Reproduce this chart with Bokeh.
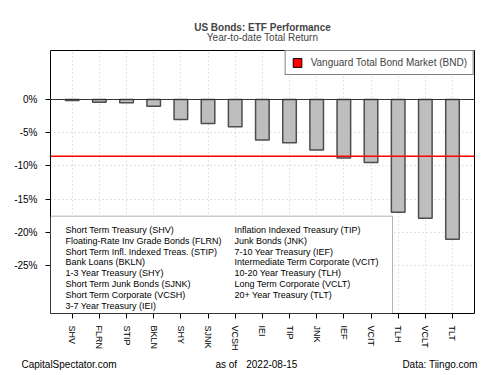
from bokeh.plotting import figure
from bokeh.models import (Range1d, Span, Legend, LegendItem, BoxAnnotation,
                          Label, Title, FixedTicker, PrintfTickFormatter, ColumnDataSource,
                          LinearAxis)
from bokeh.embed import file_html
from bokeh.resources import INLINE

# ---- data ----
tickers = ["SHV", "FLRN", "STIP", "BKLN", "SHY", "SJNK", "VCSH", "IEI", "TIP",
           "JNK", "IEF", "VCIT", "TLH", "VCLT", "TLT"]
returns = [-0.15, -0.4, -0.5, -1.0, -3.0, -3.6, -4.1, -6.1, -6.5,
           -7.6, -8.8, -9.5, -17.0, -17.9, -21.05]
names = ["Short Term Treasury (SHV)", "Floating-Rate Inv Grade Bonds (FLRN)",
         "Short Term Infl. Indexed Treas. (STIP)", "Bank Loans (BKLN)",
         "1-3 Year Treasury (SHY)", "Short Term Junk Bonds (SJNK)",
         "Short Term Corporate (VCSH)", "3-7 Year Treasury (IEI)",
         "Inflation Indexed Treasury (TIP)", "Junk Bonds (JNK)",
         "7-10 Year Treasury (IEF)", "Intermediate Term Corporate (VCIT)",
         "10-20 Year Treasury (TLH)", "Long Term Corporate (VCLT)",
         "20+ Year Treasury (TLT)"]
benchmark_name = "Vanguard Total Bond Market (BND)"
benchmark_return = -8.54
y_ticks = [0, -5, -10, -15, -20, -25]
title_text = "US Bonds: ETF Performance"
subtitle_text = "Year-to-date Total Return"
footer_texts = ["CapitalSpectator.com", "as of", "2022-08-15", "Data: Tiingo.com"]

FONT = "Liberation Sans"

xpos = list(range(len(tickers)))

p = figure(width=500, height=375, title=None,
           x_range=Range1d(-0.799, len(tickers) - 1 + 0.81),
           y_range=Range1d(-32.25, 7.385),
           output_backend="svg", toolbar_location=None,
           min_border_left=50, min_border_right=26, min_border_top=50, min_border_bottom=62,
           background_fill_color="white", border_fill_color="white",
           outline_line_color="black", outline_line_width=1)

# grid
p.xgrid.ticker = FixedTicker(ticks=xpos)
p.xgrid.grid_line_color = "#C8C8C8"
p.xgrid.grid_line_dash = "1 3"
p.ygrid.grid_line_color = "#C8C8C8"
p.ygrid.grid_line_dash = "1 3"
p.ygrid.ticker = FixedTicker(ticks=y_ticks)

# bars
src = ColumnDataSource(dict(x=xpos, ticker=tickers, ret=returns))
p.vbar(x="x", top="ret", bottom=0, width=0.5, source=src,
       fill_color="#BEBEBE", line_color="#4D4D4D", line_width=1.5)

# zero line and benchmark line
p.add_layout(Span(location=0, dimension="width", line_color="#333333", line_width=1))
p.add_layout(Span(location=benchmark_return, dimension="width", line_color="#FF0000", line_width=1.5))

# axes
p.xaxis.ticker = FixedTicker(ticks=xpos)
p.xaxis.major_label_overrides = {i: t for i, t in zip(xpos, tickers)}
p.yaxis.ticker = FixedTicker(ticks=y_ticks)
p.yaxis.formatter = PrintfTickFormatter(format="%d%%")
for ax in (p.xaxis[0], p.yaxis[0]):
    ax.axis_line_color = None
    ax.major_tick_out = 5
    ax.major_tick_in = 0
    ax.minor_tick_line_color = None
    ax.major_tick_line_color = "black"
    ax.major_label_text_font = FONT
    ax.major_label_text_color = "black"
p.yaxis.major_label_text_font_size = "10px"
p.yaxis.major_label_standoff = 8
p.xaxis.major_label_text_font_size = "9px"
p.xaxis.major_label_orientation = "vertical"
p.xaxis.major_label_standoff = 7

# benchmark legend (legend-only glyph, no visible data)
nan = float("nan")
dummy = p.quad(left=[nan], right=[nan], top=[nan], bottom=[nan], fill_color="#FF0000",
               line_color="black", line_width=1)
legend = Legend(items=[LegendItem(label=benchmark_name, renderers=[dummy])],
                location="top_right", margin=0, padding=6, spacing=0,
                glyph_width=11, glyph_height=11, label_height=11, label_standoff=8,
                label_text_font=FONT, label_text_font_size="10px",
                border_line_color="black", border_line_width=1,
                background_fill_color="white", background_fill_alpha=1)
p.add_layout(legend)

# ticker names box
p.add_layout(BoxAnnotation(right=342, top=97.3, right_units="screen", top_units="screen",
                           fill_color="white", fill_alpha=1, line_color="black", line_width=1))
for i, nm in enumerate(names):
    col, row = (0, i) if i < 8 else (1, i - 8)
    p.add_layout(Label(x=15 + col * 169, y=83.5 - row * 10.8, x_units="screen", y_units="screen",
                       text=nm, text_font=FONT, text_font_size="9px", text_baseline="middle",
                       text_color="black"))

# titles
p.add_layout(Title(text=subtitle_text, align="center", text_font=FONT, text_font_size="10px",
                   text_font_style="normal", standoff=15), "above")
p.add_layout(Title(text=title_text, align="center", text_font=FONT, text_font_size="10px",
                   text_font_style="bold", standoff=-20), "above")

# footer line: an unlabeled axis in canvas-pixel coordinates below the x axis
p.extra_x_ranges = {"footer": Range1d(50, 474)}
footer_pos = [68.5, 225.8, 271.3, 439.5]
fax = LinearAxis(x_range_name="footer", ticker=FixedTicker(ticks=footer_pos),
                 major_label_overrides={k: t for k, t in zip(footer_pos, footer_texts)},
                 axis_line_color=None, major_tick_line_color=None, minor_tick_line_color=None,
                 major_tick_out=0, major_tick_in=0, major_label_standoff=5,
                 major_label_text_font=FONT, major_label_text_font_size="10px",
                 major_label_text_color="black")
p.add_layout(fax, "below")

open("out.html", "w").write(file_html(p, INLINE))
